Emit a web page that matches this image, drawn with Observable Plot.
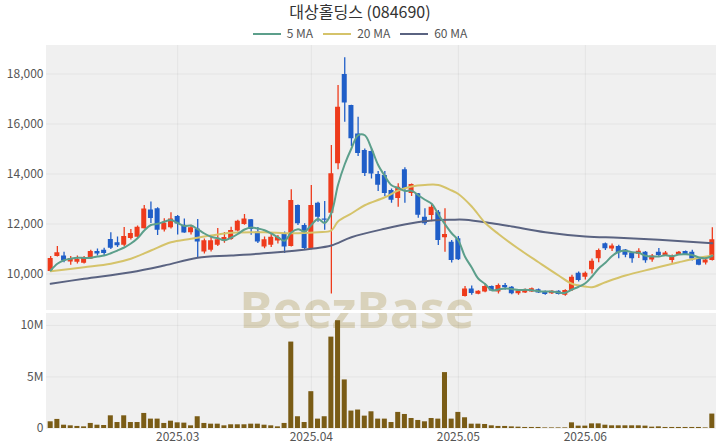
<!DOCTYPE html>
<html><head><meta charset="utf-8">
<script src="https://cdn.jsdelivr.net/npm/d3@7"></script>
<script src="https://cdn.jsdelivr.net/npm/@observablehq/plot@0.6"></script>
<style>
body{margin:0;background:#fff;}
#wrap{position:relative;width:720px;height:448px;overflow:hidden;background:#fff;font-family:"Noto Sans CJK KR","Noto Sans",sans-serif;}
.abs{position:absolute;}
#title{top:2px;left:0;width:720px;text-align:center;font-size:16px;line-height:19px;color:#333;}
#legend{top:27px;left:0;width:720px;text-align:center;font-size:12px;line-height:12px;color:#555;}
#legend .it{display:inline-block;margin:0 5px;}
#legend .sw{display:inline-block;width:28px;height:2px;vertical-align:middle;margin-right:6px;position:relative;top:-1px;}
</style></head><body>
<div id="wrap">
  <div id="title" class="abs">대상홀딩스 (084690)</div>
  <div id="legend" class="abs"></div>
  <div class="abs" style="left:46px;top:45px;width:670px;height:265px;background:#f0f0f0;z-index:0"></div>
  <div class="abs" style="left:46px;top:313px;width:670px;height:115px;background:#f0f0f0;z-index:0"></div>
  <svg class="abs" width="720" height="448" style="left:0;top:0;z-index:1">
    <text x="357" y="328" text-anchor="middle" font-family="Noto Sans, sans-serif" font-weight="bold" font-size="50" fill="#d9d2bb">BeezBase</text>
  </svg>
  <div class="abs" style="left:0;top:310px;width:720px;height:3px;background:#fff;z-index:2"></div>
  <div id="price" class="abs" style="left:0;top:45px;z-index:3"></div>
  <div id="vol" class="abs" style="left:0;top:313px;z-index:3"></div>
</div>
<script>
const dates = [
"2025-02-04","2025-02-05","2025-02-06","2025-02-07","2025-02-10","2025-02-11","2025-02-12","2025-02-13","2025-02-14","2025-02-17",
"2025-02-18","2025-02-19","2025-02-20","2025-02-21","2025-02-24","2025-02-25","2025-02-26","2025-02-27","2025-02-28",
"2025-03-04","2025-03-05","2025-03-06","2025-03-07","2025-03-10","2025-03-11","2025-03-12","2025-03-13","2025-03-14","2025-03-17",
"2025-03-18","2025-03-19","2025-03-20","2025-03-21","2025-03-24","2025-03-25","2025-03-26","2025-03-27","2025-03-28","2025-03-31",
"2025-04-01","2025-04-02","2025-04-03","2025-04-04","2025-04-07","2025-04-08","2025-04-09","2025-04-10","2025-04-11","2025-04-14",
"2025-04-15","2025-04-16","2025-04-17","2025-04-18","2025-04-21","2025-04-22","2025-04-23","2025-04-24","2025-04-25","2025-04-28",
"2025-04-29","2025-04-30",
"2025-05-02","2025-05-07","2025-05-08","2025-05-09","2025-05-12","2025-05-13","2025-05-14","2025-05-15","2025-05-16","2025-05-19",
"2025-05-20","2025-05-21","2025-05-22","2025-05-23","2025-05-26","2025-05-27","2025-05-28","2025-05-29","2025-05-30",
"2025-06-02","2025-06-04","2025-06-05","2025-06-09","2025-06-10","2025-06-11","2025-06-12","2025-06-13","2025-06-16","2025-06-17",
"2025-06-18","2025-06-19","2025-06-20","2025-06-23","2025-06-24","2025-06-25","2025-06-26","2025-06-27","2025-06-30",
"2025-07-01"];
const open = [10100,10700,10720,10480,10470,10430,10600,10900,10950,11380,11250,11150,11420,11470,11810,12560,12610,11760,11850,12300,
11950,11650,11800,10880,10950,11150,11320,11380,11720,11980,12170,11680,11080,11150,11320,11600,11100,12740,11940,11020,
12830,12200,12430,14410,17980,16740,15600,14940,14900,13980,13940,13340,13020,14170,13220,13210,12270,12340,12470,11450,
11270,11410,9100,9400,9190,9280,9500,9280,9540,9470,9210,9240,9280,9370,9300,9210,9310,9150,9340,10030,
9870,10170,10610,11210,11000,11100,10960,10830,10790,10870,10560,10870,10740,10540,10760,10900,10870,10600,10440,10540];
const high = [10700,11100,10870,10700,10720,10700,10950,11000,11030,11650,11480,11860,11780,11920,12740,12880,12650,12210,12450,12340,
12200,11950,12180,11400,11480,11820,11660,11870,12150,12380,12180,11860,11480,11580,11540,11680,13370,12760,12010,13540,
12870,12900,15140,17540,18650,16750,16270,15000,15000,14100,14100,13400,13610,14250,13600,13220,12610,12800,12540,12610,
11340,11500,9500,9520,9330,9600,9520,9600,9620,9500,9340,9400,9440,9400,9320,9330,9330,9370,9950,10080,
10080,10600,11000,11240,11200,11150,10980,10850,11010,10900,10780,11020,10900,10760,10900,10920,10950,10620,10660,11850];
const low = [10060,10680,10450,10350,10400,10400,10580,10720,10740,10980,11060,11100,11360,11440,11800,12020,11540,11680,11800,11560,
11630,11560,10620,10800,10880,11100,11230,11350,11680,11950,11550,11220,11010,11060,11200,10820,11080,11940,10940,10970,
12070,11750,9200,14170,16070,15100,14700,13900,13800,13300,13100,12830,12670,12830,13100,12230,11940,12090,11140,10870,
10440,10540,9080,9150,9170,9250,9300,9200,9350,9170,9150,9220,9260,9220,9150,9180,9160,9110,9300,9680,
9760,10000,10450,10940,10900,10610,10650,10430,10620,10430,10470,10700,10700,10430,10740,10740,10520,10330,10360,10520];
const close = [10620,10850,10520,10620,10580,10620,10900,10800,10820,11030,11130,11500,11620,11870,12600,12220,11750,12030,12200,12000,
11640,11850,11280,11330,11330,11370,11460,11740,12110,12200,11780,11280,11370,11470,11460,11080,12940,12010,11020,12740,
12270,12150,14010,16670,16840,15410,14820,14020,14000,13550,13220,12950,13470,13420,13580,12350,12010,12670,11340,11580,
10540,10570,9400,9220,9310,9500,9320,9540,9450,9210,9300,9370,9410,9240,9180,9310,9180,9340,9870,9740,
10030,10510,10940,11010,11120,10850,10750,10610,10910,10530,10720,10740,10840,10720,10870,10760,10600,10350,10560,11370];
// volume in millions of shares
const volume = [0.65,0.88,0.32,0.26,0.20,0.16,0.49,0.32,0.29,1.23,0.58,1.23,0.58,0.58,1.46,0.91,0.91,0.49,0.71,0.55,
0.52,0.26,1.14,0.49,0.42,0.42,0.26,0.36,0.36,0.36,0.42,0.42,0.32,0.26,0.16,0.49,8.38,1.14,0.58,3.57,
0.91,1.14,8.86,10.45,4.71,1.69,1.79,1.20,1.62,0.91,0.91,0.58,1.56,1.36,0.97,0.78,0.65,0.97,0.91,5.42,
0.91,1.56,1.04,0.42,0.42,0.39,0.26,0.20,0.20,0.16,0.13,0.10,0.10,0.10,0.06,0.06,0.06,0.06,0.55,0.23,
0.23,0.45,0.45,0.32,0.26,0.26,0.26,0.26,0.26,0.23,0.13,0.16,0.10,0.10,0.10,0.10,0.10,0.10,0.06,1.40];
const ma5 = [10140,10410,10550,10610,10650,10640,10650,10700,10740,10830,
10940,11060,11220,11430,11740,11960,12010,12090,12160,12040,
11920,11940,11790,11620,11490,11430,11350,11450,11600,11780,
11860,11820,11750,11620,11470,11330,11660,11790,11700,11960,
12200,12040,12440,13570,14390,15020,15550,15550,15020,14360,
13920,13550,13440,13320,13330,13150,12970,12810,12390,11990,
11630,11340,10690,10260,9810,9600,9350,9380,9420,9400,
9360,9370,9350,9310,9300,9300,9260,9250,9380,9490,
9630,9900,10220,10450,10720,10890,10930,10870,10850,10730,
10700,10700,10750,10710,10780,10790,10760,10660,10630,10730];
const ma20Idx = [0,5,9,12,15,18,21,24,27,32,35,37,40,42,43,45,47,50,52,54,56,58,60,61,63,65,67,70,73,76,78,80,81,83,86,90,94,97,99];
const ma20Val = [10110,10270,10410,10610,10940,11270,11410,11540,11650,11670,11630,11630,11670,11740,12100,12420,12750,13070,13340,13500,13560,13560,13340,13200,12700,12050,11600,11010,10470,9940,9610,9500,9470,9670,9940,10210,10470,10650,10740];
const ma60Idx = [0,5,12,17,22,27,33,39,42,45,50,54,57,60,62,66,69,74,80,85,91,99];
const ma60Val = [9610,9810,10070,10340,10650,10740,10850,11010,11140,11470,11810,12030,12140,12170,12170,12030,11900,11670,11500,11450,11370,11230];
const monthTicks = ["2025-03-04","2025-04-01","2025-05-02","2025-06-02"];
const priceTicks = [10000,12000,14000,16000,18000];
const volTicks = [0,5,10];

const RED = "#ee3b1c", BLUE = "#1f5ec8";
const C5 = "#5c9f8b", C20 = "#d5c36a", C60 = "#5a6381", VOLC = "#7a5c16";
const FONT = '"Noto Sans CJK KR","Noto Sans",sans-serif';

const candles = dates.map((d, i) => ({date: d, open: open[i], high: high[i], low: low[i], close: close[i],
  volume: volume[i] * 1e6, col: close[i] >= open[i] ? RED : BLUE}));
const ma5Data = dates.map((d, i) => ({date: d, v: ma5[i]}));
const ma20Data = ma20Idx.map((i, k) => ({date: dates[i], v: ma20Val[k]}));
const ma60Data = ma60Idx.map((i, k) => ({date: dates[i], v: ma60Val[k]}));

// legend
const legend = document.getElementById("legend");
[["5 MA", C5], ["20 MA", C20], ["60 MA", C60]].forEach(([t, c]) => {
  const s = document.createElement("span"); s.className = "it";
  s.innerHTML = `<span class="sw" style="background:${c}"></span>${t}`;
  legend.appendChild(s);
});

const xBase = {type: "band", domain: dates, padding: 0.25};
const styleBase = {background: "transparent", overflow: "visible", fontFamily: FONT, fontSize: "12px", color: "#555"};

const price = Plot.plot({
  width: 720, height: 265, marginLeft: 46, marginRight: 4, marginTop: 0, marginBottom: 0,
  style: styleBase,
  x: {...xBase, axis: null},
  y: {domain: [8540, 19140], ticks: priceTicks, tickFormat: d3.format(","), tickSize: 0, tickPadding: 3, label: null},
  color: {type: "identity"},
  marks: [
    Plot.ruleY(priceTicks, {stroke: "#000", strokeOpacity: 0.05}),
    Plot.ruleX(monthTicks, {x: d => d, stroke: "#000", strokeOpacity: 0.05}),
    Plot.ruleX(candles, {x: "date", y1: "low", y2: "high", stroke: "col", strokeWidth: 1.3}),
    Plot.barY(candles, {x: "date", y1: "open", y2: "close", fill: "col"}),
    Plot.line(ma60Data, {x: "date", y: "v", stroke: C60, strokeWidth: 2, curve: "catmull-rom"}),
    Plot.line(ma20Data, {x: "date", y: "v", stroke: C20, strokeWidth: 2, curve: "catmull-rom"}),
    Plot.line(ma5Data, {x: "date", y: "v", stroke: C5, strokeWidth: 2, curve: "catmull-rom"})
  ]
});
document.getElementById("price").appendChild(price);

const vol = Plot.plot({
  width: 720, height: 135, marginLeft: 46, marginRight: 4, marginTop: 0, marginBottom: 20,
  style: styleBase,
  x: {...xBase, ticks: monthTicks, tickFormat: d => d.slice(0, 7).replace("-", "."), tickSize: 0, tickPadding: 4, label: null},
  y: {domain: [0, 11.15e6], ticks: volTicks.map(v => v * 1e6), tickFormat: d => d === 0 ? "0" : (d / 1e6) + "M", tickSize: 0, tickPadding: 3, label: null},
  marks: [
    Plot.ruleY(volTicks.map(v => v * 1e6), {stroke: "#000", strokeOpacity: 0.05}),
    Plot.ruleX(monthTicks, {x: d => d, stroke: "#000", strokeOpacity: 0.05}),
    Plot.barY(candles, {x: "date", y: "volume", fill: VOLC})
  ]
});
document.getElementById("vol").appendChild(vol);
</script>
</body></html>
